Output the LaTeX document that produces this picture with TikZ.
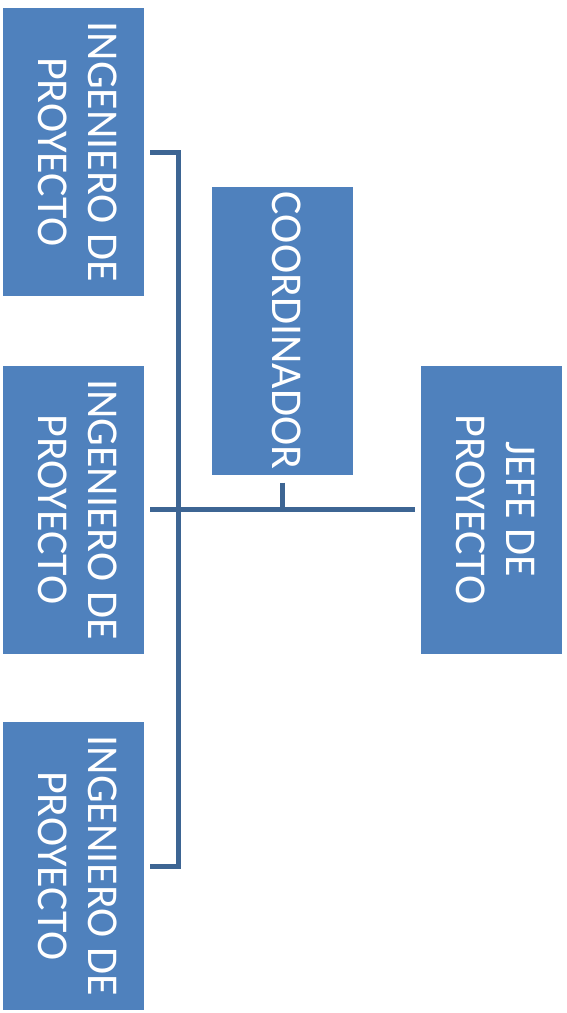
\documentclass[tikz,border=0pt]{standalone}
\usepackage{fontspec}
\setmainfont{Carlito}
\usepackage{graphicx}
\definecolor{boxblue}{HTML}{4F81BD}
\definecolor{linkblue}{HTML}{3D6593}
\newcommand\vlabel[1]{\rotatebox{-90}{\begin{tabular}{@{}c@{}}#1\end{tabular}}}
\tikzset{
  orgbox/.style={fill=boxblue, text=white, minimum width=141pt, minimum height=288pt, inner sep=0pt, font=\fontsize{44}{50}\selectfont},
  link/.style={draw=linkblue, line width=5pt}
}
\begin{document}
\begin{tikzpicture}[x=1pt,y=-1pt]
\useasboundingbox (0,0) rectangle (567,1013);
\node[orgbox] (ing1) at (73.5,152) {\vlabel{INGENIERO DE\\PROYECTO}};
\node[orgbox] (ing2) at (73.5,509.5) {\vlabel{INGENIERO DE\\PROYECTO}};
\node[orgbox] (ing3) at (73.5,866) {\vlabel{INGENIERO DE\\PROYECTO}};
\node[orgbox] (coord) at (282.5,330.5) {\vlabel{COORDINADOR}};
\node[orgbox] (jefe) at (491.5,509.5) {\vlabel{JEFE DE\\PROYECTO}};
\coordinate (bus) at (178,509.5);
\draw[link] ([xshift=-6pt]jefe.west) -- ([xshift=6pt]ing2.east);
\draw[link] ([yshift=-8pt]coord.south) -- (coord.south |- jefe.west);
\draw[link] ([xshift=6pt]ing1.east) -| (bus) |- ([xshift=6pt]ing3.east);
\end{tikzpicture}
\end{document}
